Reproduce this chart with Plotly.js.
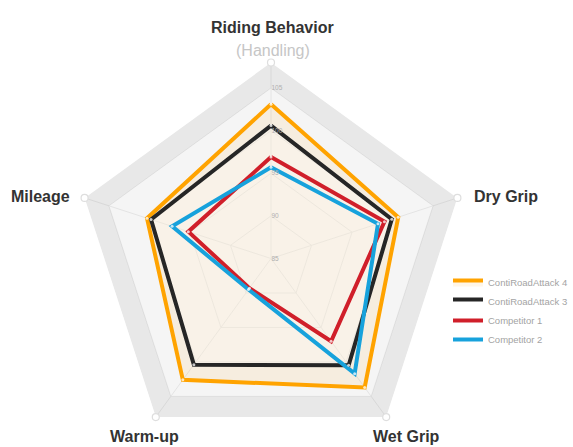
<!DOCTYPE html>
<html>
<head>
<meta charset="utf-8">
<script src="https://cdn.plot.ly/plotly-3.0.1.min.js"></script>
<style>
  html, body { margin: 0; padding: 0; overflow: hidden; background: #fff; }
  #chart { width: 573px; height: 462px; }
</style>
</head>
<body>
<div id="chart"></div>
<script>
// ---- data ----
const categories = ["Riding Behavior", "Dry Grip", "Wet Grip", "Warm-up", "Mileage"];
const categorySubtitles = ["(Handling)", "", "", "", ""];
const seriesNames = ["ContiRoadAttack 4", "ContiRoadAttack 3", "Competitor 1", "Competitor 2"];
const contiRoadAttack4 = [103.1, 100.7, 103.7, 102.6, 100.3];
const contiRoadAttack3 = [100.6, 99.9, 100.5, 100.4, 99.8];
const competitor1 = [96.9, 99.0, 97.0, 89.3, 95.2];
const competitor2 = [95.7, 98.2, 101.7, 89.5, 97.2];
const radialTicks = [85, 90, 95, 100, 105];
const radialRange = [85, 108];

// ---- styling ----
const W = 573, H = 462;
const colors = ["#ffa300", "#262626", "#d01f2a", "#17a2dc"];
const fills = ["rgba(255,168,30,0.10)", "rgba(255,255,255,0.30)", null, null];
const seriesValues = [contiRoadAttack4, contiRoadAttack3, competitor1, competitor2];

const close = a => a.concat([a[0]]);
const thetaClosed = close(categories);

const traces = [];

// outer grey band (between last ring and edge)
const outer = categories.map(() => radialRange[1]);
const inner = categories.map(() => radialTicks[radialTicks.length - 1]);
traces.push({
  type: "scatterpolar",
  r: close(outer).concat(close(inner).reverse()),
  theta: thetaClosed.concat(thetaClosed.slice().reverse()),
  mode: "lines",
  line: { width: 0, color: "rgba(0,0,0,0)" },
  fill: "toself",
  fillcolor: "rgba(0,0,0,0.05)",
  showlegend: false,
  hoverinfo: "skip"
});

seriesValues.forEach((vals, i) => {
  traces.push({
    type: "scatterpolar",
    name: seriesNames[i],
    r: close(vals),
    theta: thetaClosed,
    mode: "lines",
    line: { color: colors[i], width: 4 },
    fill: fills[i] ? "toself" : "none",
    fillcolor: fills[i] || undefined,
    hoverinfo: "name+r+theta"
  });
});
// small vertex dots on each series
seriesValues.forEach((vals, i) => {
  traces.push({
    type: "scatterpolar",
    r: vals,
    theta: categories,
    mode: "markers",
    marker: { size: 3, color: "rgba(255,255,255,0.75)" },
    showlegend: false,
    hoverinfo: "skip"
  });
});

// outer vertex circles
traces.push({
  type: "scatterpolar",
  r: outer,
  theta: categories,
  mode: "markers",
  marker: { size: 7, color: "#ffffff", line: { color: "#dedede", width: 1.2 } },
  cliponaxis: false,
  showlegend: false,
  hoverinfo: "skip"
});

// category labels (placed around the chart, pixel positions -> paper)
const px = x => x / W;
const py = y => 1 - y / H;
const labelPlacement = [
  { x: 272.5, y: 27.5, xanchor: "center", subY: 51 },
  { x: 472, y: 196, xanchor: "left" },
  { x: 406, y: 436.5, xanchor: "center" },
  { x: 144, y: 436.5, xanchor: "center" },
  { x: 72, y: 196, xanchor: "right" }
];
const annotations = [];
categories.forEach((c, i) => {
  const p = labelPlacement[i];
  annotations.push({
    xref: "paper", yref: "paper", x: px(p.x), y: py(p.y),
    xanchor: p.xanchor, yanchor: "middle", showarrow: false,
    text: "<b>" + c + "</b>",
    font: { size: 16, color: "#333333", family: "Liberation Sans, Arial, sans-serif" }
  });
  if (categorySubtitles[i]) {
    annotations.push({
      xref: "paper", yref: "paper", x: px(p.x), y: py(p.subY),
      xanchor: "center", yanchor: "middle", showarrow: false,
      text: categorySubtitles[i],
      font: { size: 16, color: "#c6c6c6", family: "Liberation Sans, Arial, sans-serif" }
    });
  }
});

const cx = 271, cy = 258.5, half = 196;
const layout = {
  width: W,
  height: H,
  margin: { l: 0, r: 0, t: 0, b: 0 },
  paper_bgcolor: "#ffffff",
  font: { family: "Liberation Sans, Arial, sans-serif" },
  showlegend: true,
  annotations: annotations,
  legend: {
    x: 1, y: py(311), xanchor: "right", yanchor: "middle",
    font: { size: 9.5, color: "#a3a3a3" },
    bgcolor: "rgba(0,0,0,0)",
    traceorder: "normal"
  },
  polar: {
    domain: { x: [px(cx - half), px(cx + half)], y: [py(cy + half), py(cy - half)] },
    bgcolor: "#f5f5f5",
    gridshape: "linear",
    radialaxis: {
      range: radialRange,
      tickvals: radialTicks,
      ticktext: radialTicks.map(String),
      angle: 90,
      tickangle: 90,
      showline: false,
      ticks: "",
      tickfont: { size: 6.5, color: "#b0b0b0" },
      gridcolor: "#e4e4e4",
      gridwidth: 1
    },
    angularaxis: {
      type: "category",
      categoryarray: categories,
      direction: "clockwise",
      rotation: 90,
      showline: false,
      showticklabels: false,
      ticks: "",
      gridcolor: "#e4e4e4"
    }
  }
};

Plotly.newPlot("chart", traces, layout, { displayModeBar: false, staticPlot: true });
</script>
</body>
</html>
